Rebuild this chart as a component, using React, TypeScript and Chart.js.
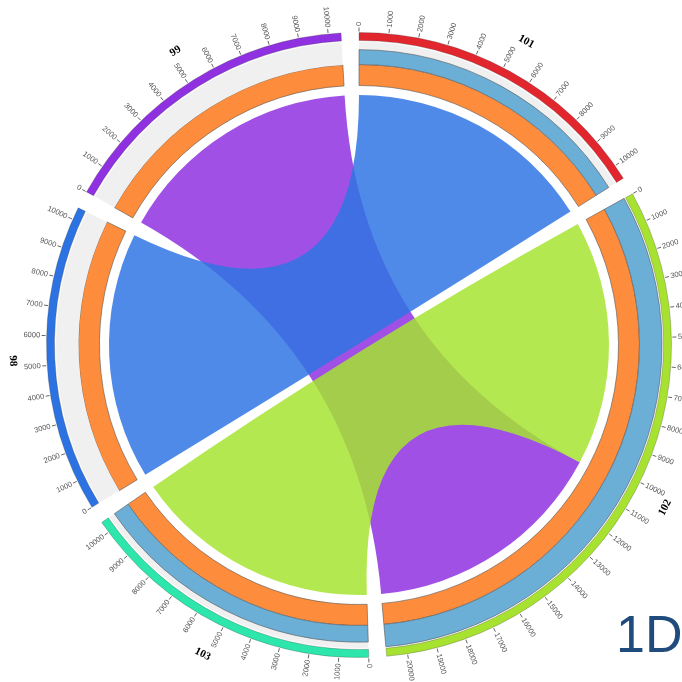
import React, { useEffect, useRef } from 'react';
import { Chart, registerables } from 'chart.js';

Chart.register(...registerables);

// ---- data ----
const segmentIds = ['101', '102', '103', '98', '99'];
const segmentLengths = [10500, 20700, 10400, 10420, 10430];
const segmentColors = ['#e2262e', '#a7e231', '#2ce6ab', '#2d72e2', '#8f31e1'];
const gapLength = 600;

const trackValues = [66, 100, 74, 0, 0];
const trackMax = 100;

const tickStep = 1000;

const chordFrom = ['99', '101', '102'];
const chordFromStart = [0, 0, 0];
const chordFromEnd = [10430, 10500, 10350];
const chordTo = ['102', '98', '103'];
const chordToStart = [10350, 0, 0];
const chordToEnd = [20700, 10420, 10400];
const chordColors = ['rgba(143,49,225,0.85)', 'rgba(48,118,228,0.85)', 'rgba(167,228,49,0.85)'];

const cornerLabel = '1D';

// ---- helpers ----
const TRANSPARENT = 'rgba(0,0,0,0)';
const perSegment = <T,>(vals: T[], gapVal: T): T[] =>
  segmentLengths.flatMap((_, k) => [vals[k], gapVal]);
const ringData = perSegment(segmentLengths, gapLength);

const RING = 0;
const BARS = 2;
const TRACK = 3;
const ORANGE = 4;

const barsPlugin = {
  id: 'barsPlugin',
  afterDatasetsUpdate(chart: any) {
    const barMeta = chart.getDatasetMeta(BARS);
    const trackMeta = chart.getDatasetMeta(TRACK);
    barMeta.data.forEach((arc: any, i: number) => {
      const t = trackMeta.data[i];
      const k = Math.floor(i / 2);
      const frac = i % 2 === 0 ? trackValues[k] / trackMax : 0;
      arc.innerRadius = t.innerRadius;
      arc.outerRadius = t.innerRadius + frac * (t.outerRadius - t.innerRadius);
    });
  },
};

const chordPlugin = {
  id: 'chordPlugin',
  beforeDatasetsDraw(chart: any) {
    const meta = chart.getDatasetMeta(ORANGE);
    const first = meta.data[0];
    if (!first) return;
    const cx = first.x;
    const cy = first.y;
    const r = first.innerRadius - 9.5;
    const angleAt = (id: string, v: number) => {
      const k = segmentIds.indexOf(id);
      const a = meta.data[2 * k];
      return a.startAngle + (v / segmentLengths[k]) * (a.endAngle - a.startAngle);
    };
    const ctx = chart.ctx;
    ctx.save();
    chordFrom.forEach((src, i) => {
      const s0 = angleAt(src, chordFromStart[i]);
      const s1 = angleAt(src, chordFromEnd[i]);
      const t0 = angleAt(chordTo[i], chordToStart[i]);
      const t1 = angleAt(chordTo[i], chordToEnd[i]);
      ctx.beginPath();
      ctx.moveTo(cx + r * Math.cos(s0), cy + r * Math.sin(s0));
      ctx.arc(cx, cy, r, s0, s1);
      ctx.quadraticCurveTo(cx, cy, cx + r * Math.cos(t0), cy + r * Math.sin(t0));
      ctx.arc(cx, cy, r, t0, t1);
      ctx.quadraticCurveTo(cx, cy, cx + r * Math.cos(s0), cy + r * Math.sin(s0));
      ctx.closePath();
      ctx.fillStyle = chordColors[i];
      ctx.fill();
    });
    ctx.restore();
  },
};

const labelsPlugin = {
  id: 'labelsPlugin',
  afterDatasetsDraw(chart: any) {
    const meta = chart.getDatasetMeta(RING);
    const ctx = chart.ctx;
    ctx.save();
    segmentIds.forEach((id, k) => {
      const a = meta.data[2 * k];
      const cx = a.x;
      const cy = a.y;
      const R = a.outerRadius;
      const len = segmentLengths[k];
      // ticks
      for (let v = 0; v <= len; v += tickStep) {
        const th = a.startAngle + (v / len) * (a.endAngle - a.startAngle);
        const c = Math.cos(th);
        const s = Math.sin(th);
        ctx.strokeStyle = '#666';
        ctx.lineWidth = 1;
        ctx.beginPath();
        ctx.moveTo(cx + (R + 1) * c, cy + (R + 1) * s);
        ctx.lineTo(cx + (R + 5) * c, cy + (R + 5) * s);
        ctx.stroke();
        let fromTop = (th + Math.PI / 2) % (2 * Math.PI);
        if (fromTop < 0) fromTop += 2 * Math.PI;
        ctx.save();
        ctx.translate(cx, cy);
        ctx.font = '7.5px "Liberation Sans", Arial, sans-serif';
        ctx.fillStyle = '#555';
        ctx.textBaseline = 'middle';
        if (fromTop > Math.PI + 1e-6) {
          ctx.rotate(th + Math.PI);
          ctx.textAlign = 'right';
          ctx.fillText(String(v), -(R + 6.5), 0);
        } else {
          ctx.rotate(th);
          ctx.textAlign = 'left';
          ctx.fillText(String(v), R + 6.5, 0);
        }
        ctx.restore();
      }
      // segment label
      const mid = (a.startAngle + a.endAngle) / 2;
      let fromTop = (mid + Math.PI / 2) % (2 * Math.PI);
      if (fromTop < 0) fromTop += 2 * Math.PI;
      const flip = fromTop > Math.PI / 2 && fromTop < (3 * Math.PI) / 2;
      const lr = R + 34;
      ctx.save();
      ctx.translate(cx, cy);
      ctx.font = 'bold 11px "Liberation Serif", "Times New Roman", serif';
      ctx.fillStyle = '#000';
      ctx.textAlign = 'center';
      ctx.textBaseline = 'middle';
      if (flip) {
        ctx.rotate(fromTop + Math.PI);
        ctx.fillText(id, 0, lr);
      } else {
        ctx.rotate(fromTop);
        ctx.fillText(id, 0, -lr);
      }
      ctx.restore();
    });
    ctx.restore();
  },
  afterDraw(chart: any) {
    const ctx = chart.ctx;
    ctx.save();
    ctx.font = '52px "Liberation Sans", Arial, sans-serif';
    ctx.fillStyle = '#1f4b7d';
    ctx.textAlign = 'left';
    ctx.textBaseline = 'alphabetic';
    ctx.fillText(cornerLabel, 616, 652);
    ctx.restore();
  },
};

export default function App() {
  const canvasRef = useRef<HTMLCanvasElement | null>(null);

  useEffect(() => {
    const canvas = canvasRef.current;
    if (!canvas) return;
    const outerR = 312.5;
    const innerR = 259.5;
    const chart = new Chart(canvas, {
      type: 'doughnut',
      data: {
        labels: perSegment(segmentIds, 'gap'),
        datasets: [
          {
            label: 'ring',
            data: ringData,
            weight: 8,
            backgroundColor: perSegment(segmentColors, TRANSPARENT),
            borderColor: 'rgba(60,60,60,0.55)',
            borderWidth: perSegment(segmentLengths.map(() => 0.5), 0),
          } as any,
          {
            label: 'spacer',
            data: ringData,
            weight: 1.5,
            backgroundColor: TRANSPARENT,
            borderWidth: 0,
          } as any,
          {
            label: 'bars',
            data: ringData,
            weight: 0,
            backgroundColor: perSegment(segmentLengths.map(() => '#6baed6'), TRANSPARENT),
            borderColor: '#555',
            borderWidth: perSegment(trackValues.map((v) => (v > 0 ? 0.6 : 0)), 0),
          } as any,
          {
            label: 'track',
            data: ringData,
            weight: 22.5,
            backgroundColor: perSegment(segmentLengths.map(() => '#f0f0f0'), TRANSPARENT),
            borderWidth: 0,
          } as any,
          {
            label: 'orange',
            data: ringData,
            weight: 21,
            backgroundColor: perSegment(segmentLengths.map(() => '#fd8d3c'), TRANSPARENT),
            borderColor: '#555',
            borderWidth: perSegment(segmentLengths.map(() => 0.6), 0),
          } as any,
        ],
      },
      options: {
        responsive: false,
        maintainAspectRatio: false,
        animation: false,
        events: [],
        rotation: 0,
        radius: outerR,
        cutout: `${(innerR / outerR) * 100}%`,
        layout: { padding: { left: 39, right: 3, top: 25, bottom: 17 } },
        plugins: {
          legend: { display: false },
          tooltip: { enabled: false },
        },
      } as any,
      plugins: [barsPlugin, chordPlugin, labelsPlugin],
    });
    return () => chart.destroy();
  }, []);

  return (
    <div style={{ position: 'absolute', left: 0, top: 0, width: 682, height: 682, background: '#fff' }}>
      <canvas ref={canvasRef} width={682} height={682} style={{ display: 'block' }} />
    </div>
  );
}
